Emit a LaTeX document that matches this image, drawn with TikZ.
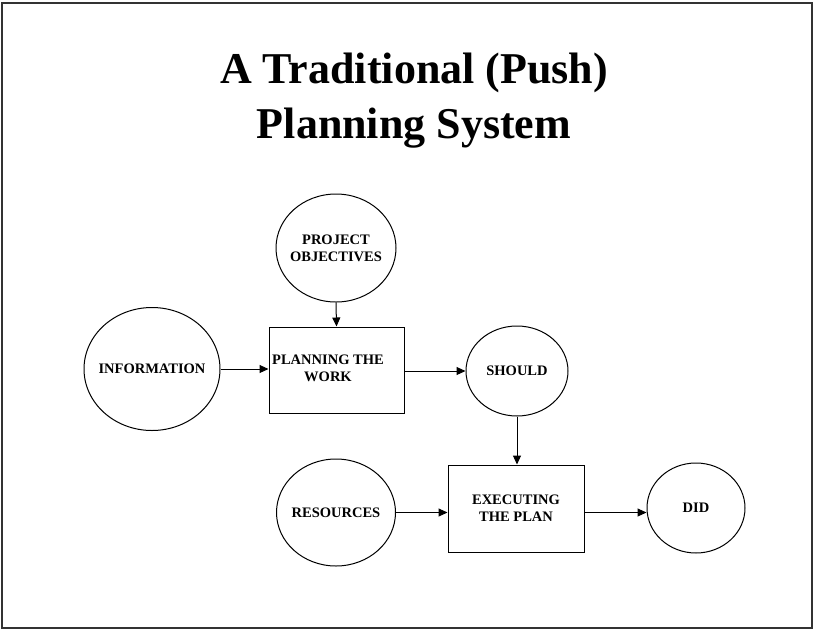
\documentclass[tikz,border=0pt]{standalone}
\usepackage{fontspec}
\setmainfont{Liberation Serif}
\usetikzlibrary{shapes.geometric,arrows.meta}
\begin{document}
\begin{tikzpicture}[x=1pt,y=-1pt,
  lbl/.style={font=\bfseries\fontsize{14.5}{17}\selectfont,align=center},
  oval/.style={draw,ellipse,line width=1pt,inner sep=0pt},
  boxnode/.style={draw,rectangle,line width=1pt,inner sep=0pt,lbl},
  conn/.style={line width=1pt,-{Triangle[length=9pt,width=8pt]}}]
\useasboundingbox (0,0) rectangle (815,630);
\draw[line width=1.5pt,draw=black!80] (2,3) rectangle (812,628);
\node[font=\bfseries\fontsize{44}{55}\selectfont,align=center] (title) at (414,101) {A Traditional (Push)\\Planning System};
\node[oval,minimum width=120pt,minimum height=108pt,label={[lbl]center:PROJECT\\OBJECTIVES}] (obj) at (336,248) {};
\node[oval,minimum width=136pt,minimum height=123pt,label={[lbl]center:INFORMATION}] (info) at (152,369) {};
\node[boxnode,minimum width=135pt,minimum height=86pt] (plan) at (336.5,370) {};
\node[lbl] (plantxt) at (328,368) {PLANNING THE\\WORK};
\node[oval,minimum width=102pt,minimum height=90pt,label={[lbl]center:SHOULD}] (should) at (517,371) {};
\node[boxnode,minimum width=136pt,minimum height=87pt] (exec) at (516,508.5) {EXECUTING\\THE PLAN};
\node[oval,minimum width=119pt,minimum height=107pt,label={[lbl]center:RESOURCES}] (res) at (336,512.5) {};
\node[oval,minimum width=98pt,minimum height=90pt,label={[lbl]center:DID}] (did) at (696,508) {};
\draw[conn] (obj.south) -- (plan.north);
\draw[conn] (info.east) -- (info.east -| plan.west);
\draw[conn] (plan.east |- should.west) -- (should.west);
\draw[conn] (should.south) -- (should.south |- exec.north);
\draw[conn] (res.east) -- (res.east -| exec.west);
\draw[conn] (exec.east |- res.east) -- (exec.east |- res.east -| did.west);
\end{tikzpicture}
\end{document}
